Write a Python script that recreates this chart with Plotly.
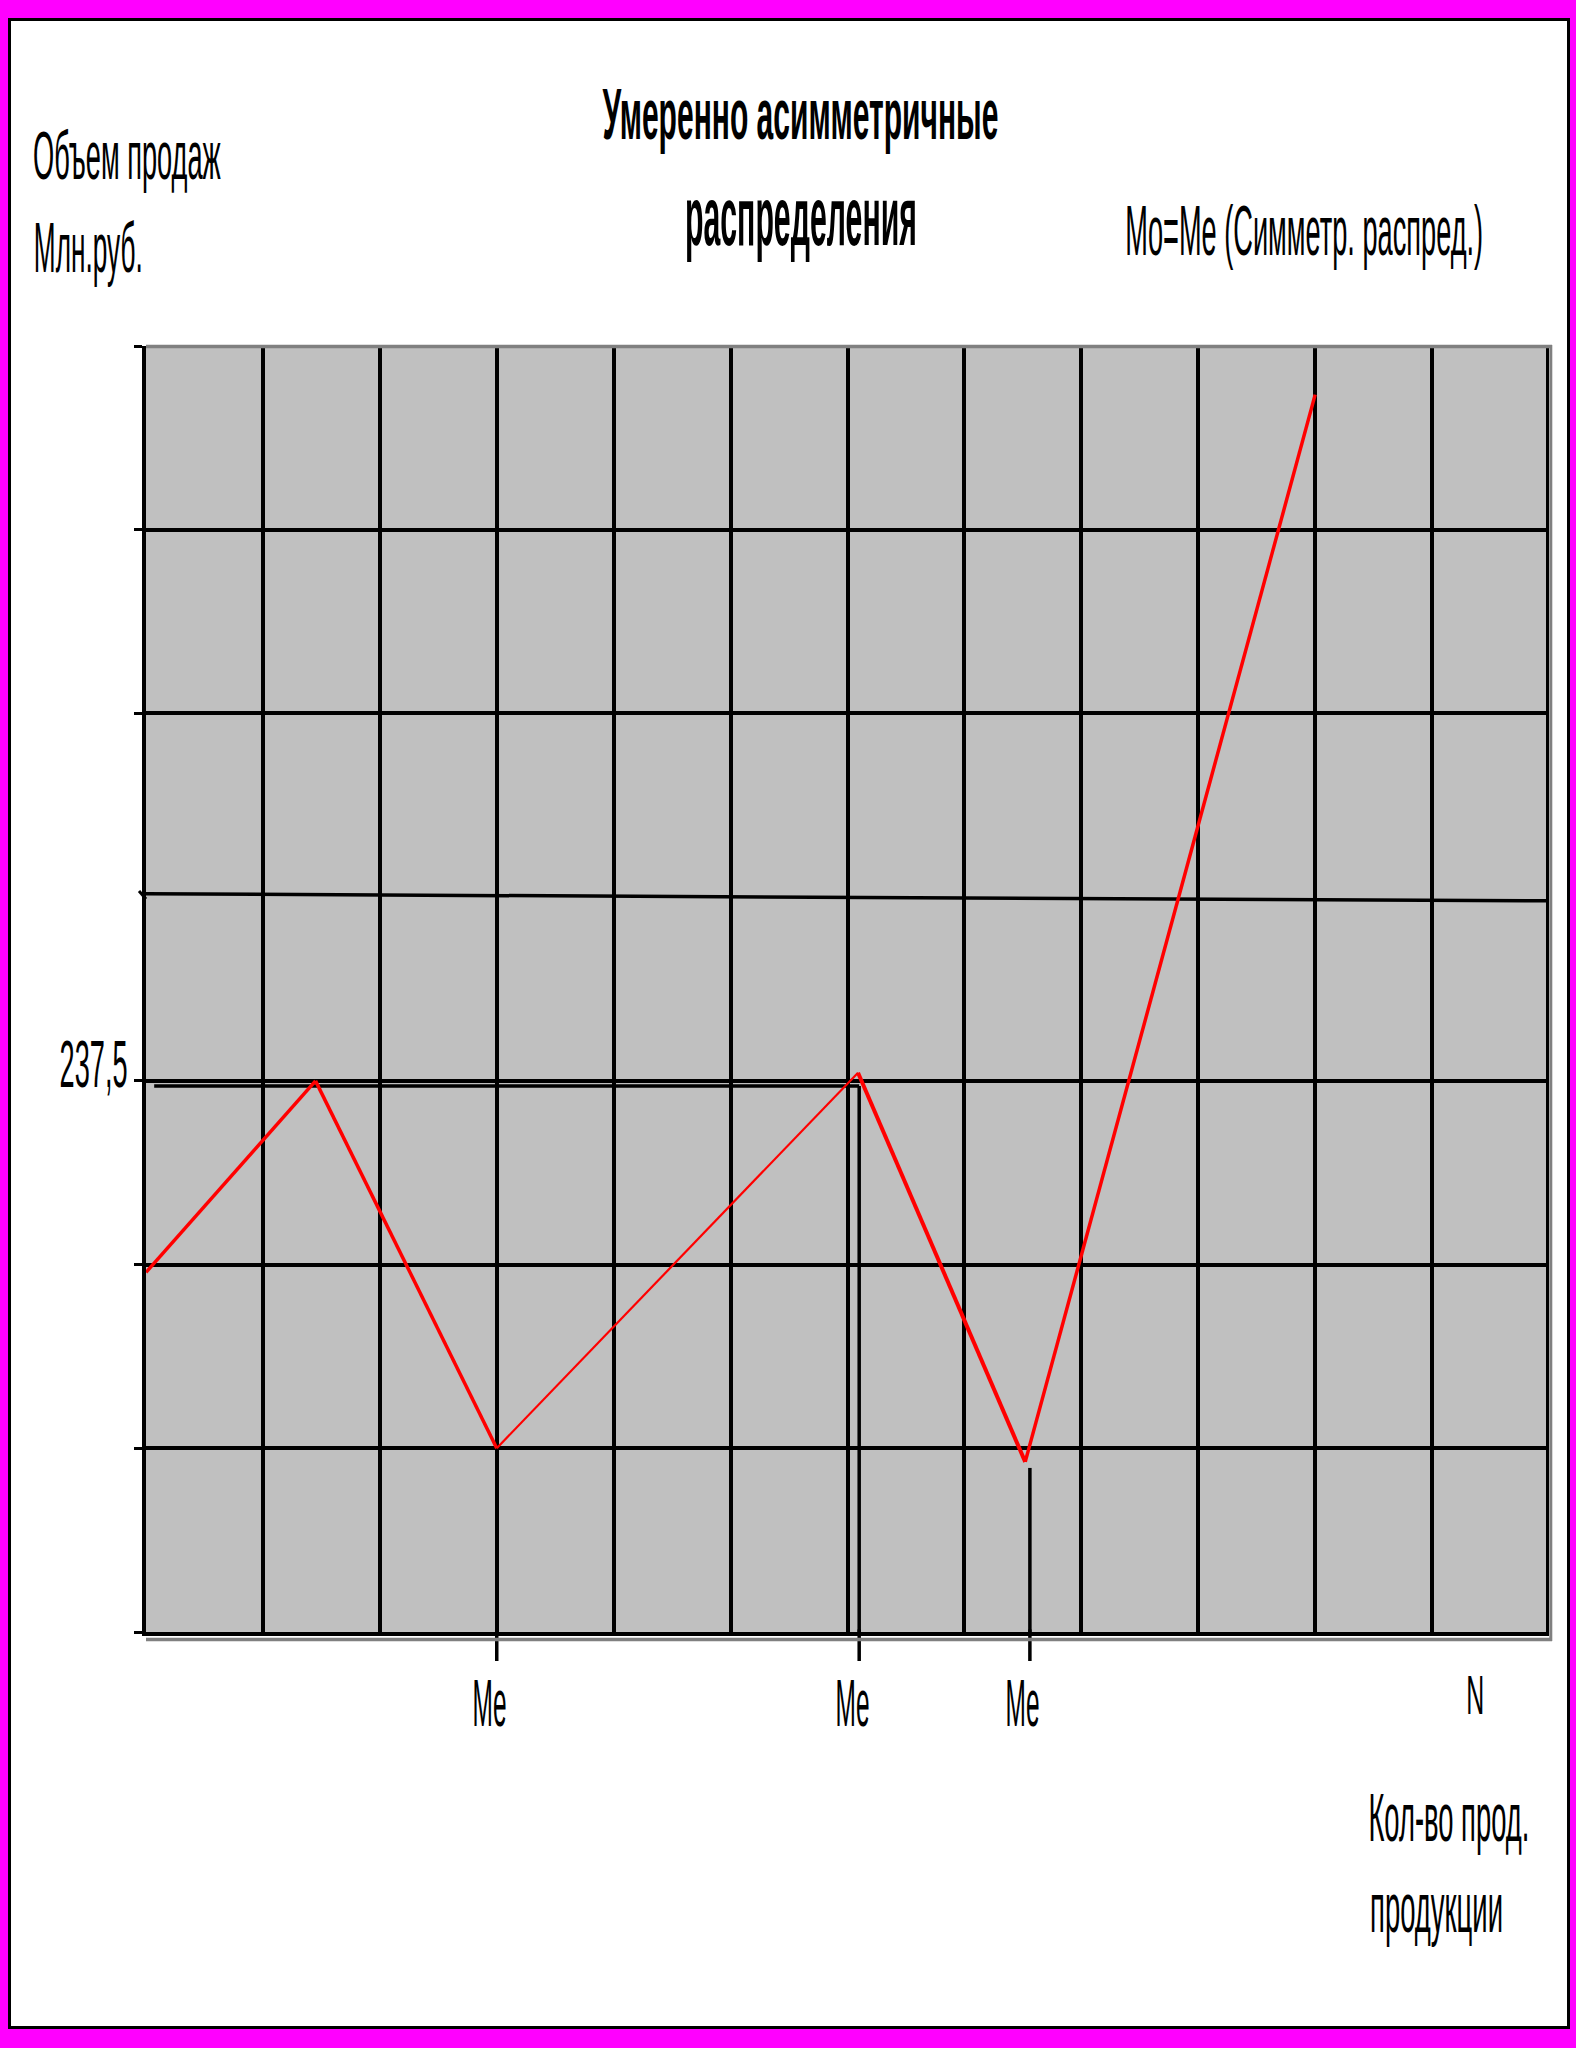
import json
import plotly.graph_objects as go

# ---------------- data ----------------
x_vals = [0.0, 1.45, 3.0, 6.09, 7.52, 10.0]          # position along "Кол-во прод. продукции"
y_vals = [155.0, 237.5, 79.2, 241.0, 73.3, 533.2]     # "Объем продаж, млн.руб."
me_x = [3.0, 6.1, 7.56]                               # median markers
me_top = [70.7, 235.3, 70.7]                          # where each Me line starts (value units)
me_labels = ["Me", "Me", "Me"]
guide_y = 235.3                                       # horizontal guide to the 237,5 level
guide_x = [0.07, 6.1]
slope_x = [0.0, 12.0]                                 # slightly skewed 4th grid line
slope_y = [318.1, 315.1]
y_label_value = 237.5
y_label_text = "237,5"
n_cols = 12
n_rows = 7
y_step = 237.5 / 3
y_gridvals = [k * y_step for k in range(n_rows + 1) if k != 4]
x_gridvals = list(range(n_cols + 1))

title_lines = ["Умеренно асимметричные", "распределения"]
y_title_lines = ["Объем продаж", "Млн.руб."]
x_title_lines = ["Кол-во прод.", "продукции"]
sym_text = "Mo=Me (Симметр. распред.)"
n_text = "N"

# ---------------- geometry helpers (pixels -> paper) ----------------
W, H = 1576, 2048
L, R, T, B = 146, 1549, 346, 1632
PW, PH = R - L, B - T


def px(x):
    return (x - L) / PW


def py(y):
    return (B - y) / PH


FONT = "Liberation Sans, Arial, sans-serif"
LW = 3.5
seg_widths = [3.5, 3.5, 2.2, 4, 3.5]

fig = go.Figure()
for i in range(len(x_vals) - 1):
    fig.add_trace(go.Scatter(
        x=x_vals[i:i + 2], y=y_vals[i:i + 2], mode="lines",
        line=dict(color="#FF0000", width=seg_widths[i]),
        showlegend=False, hoverinfo="skip"))

shapes = []
# magenta page frame (strips) + black inner border
mag = "#FF00FF"
for (x0, y0, x1, y1) in [(0, 0, W, 18), (0, 2029, W, H), (0, 0, 8, H), (1570, 0, W, H)]:
    shapes.append(dict(type="rect", xref="paper", yref="paper",
                       x0=px(x0), x1=px(x1), y0=py(y0), y1=py(y1),
                       fillcolor=mag, line=dict(width=0), layer="below"))
shapes.append(dict(type="rect", xref="paper", yref="paper",
                   x0=px(9.5), x1=px(1568.5), y0=py(19.5), y1=py(2027.5),
                   line=dict(color="black", width=3), layer="below"))

# right-most black grid line and grey plot-area border (top, right, bottom shadow)
shapes.append(dict(type="line", xref="paper", yref="paper", x0=px(1547.5), x1=px(1547.5),
                   y0=py(348), y1=py(1632), line=dict(color="black", width=3), layer="above"))
grey = "#808080"
shapes.append(dict(type="line", xref="paper", yref="paper", x0=px(146), x1=px(1552),
                   y0=py(346.5), y1=py(346.5), line=dict(color=grey, width=3.5), layer="above"))
shapes.append(dict(type="line", xref="paper", yref="paper", x0=px(1550.8), x1=px(1550.8),
                   y0=py(345), y1=py(1641), line=dict(color=grey, width=3), layer="above"))
shapes.append(dict(type="line", xref="paper", yref="paper", x0=px(146), x1=px(1552),
                   y0=py(1639.5), y1=py(1639.5), line=dict(color=grey, width=3.5), layer="above"))

# skewed 4th horizontal grid line and its slanted tick
shapes.append(dict(type="line", xref="x", yref="y", x0=slope_x[0], x1=slope_x[1],
                   y0=slope_y[0], y1=slope_y[1], line=dict(color="black", width=LW), layer="below"))
shapes.append(dict(type="line", xref="paper", yref="paper", x0=px(139), x1=px(146),
                   y0=py(891), y1=py(899), line=dict(color="black", width=3), layer="below"))

# guide line to the 237,5 level
shapes.append(dict(type="line", xref="x", yref="y", x0=guide_x[0], x1=guide_x[1],
                   y0=guide_y, y1=guide_y, line=dict(color="black", width=LW), layer="below"))

# Me lines: inside plot (data) + stub below the axis
for xv, top in zip(me_x, me_top):
    shapes.append(dict(type="line", xref="x", yref="y", x0=xv, x1=xv, y0=0, y1=top,
                       line=dict(color="black", width=LW), layer="below"))
    shapes.append(dict(type="line", xref="x", yref="paper", x0=xv, x1=xv, y0=0.002, y1=py(1661),
                       line=dict(color="black", width=LW), layer="below"))

# ---------------- texts ----------------
ann = []
ann_w = []


def add_text(text, cx, baseline, size, bold=False, width=None):
    ann.append(dict(text=text, xref="paper", yref="paper", x=px(cx),
                    y=py(baseline - 0.3465 * size), xanchor="center", yanchor="middle",
                    showarrow=False,
                    font=dict(family=FONT, size=size, color="black",
                              weight=700 if bold else 400)))
    ann_w.append(width)


add_text(title_lines[0], 800, 139, 73, True, 396)
add_text(title_lines[1], 801, 245, 84, True, 232)
add_text(y_title_lines[0], 127, 179, 68, False, 188)
add_text(y_title_lines[1], 88, 272, 70, False, 109)
add_text(sym_text, 1304, 255, 71, False, 358)
add_text(n_text, 1475, 1714, 56, False, 18)
add_text(x_title_lines[0], 1449, 1841, 69, False, 161)
add_text(x_title_lines[1], 1436, 1932, 70, False, 133)

# y value label
ann.append(dict(text=y_label_text, xref="paper", yref="y", x=px(93), y=y_label_value,
                yshift=17, xanchor="center", yanchor="middle", showarrow=False,
                font=dict(family=FONT, size=66, color="black")))
ann_w.append(68)

# Me labels
for xv, lab in zip(me_x, me_labels):
    ann.append(dict(text=lab, xref="x", yref="paper", x=xv, xshift=-7,
                    y=py(1726 - 0.3465 * 67), xanchor="center", yanchor="middle",
                    showarrow=False, font=dict(family=FONT, size=67, color="black")))
    ann_w.append(34)

fig.update_layout(
    width=W, height=H, autosize=False,
    margin=dict(l=L, r=W - R, t=T, b=H - B, pad=0),
    paper_bgcolor="white", plot_bgcolor="#C0C0C0",
    showlegend=False,
    shapes=shapes, annotations=ann,
    xaxis=dict(range=[0, n_cols], tickvals=x_gridvals, showticklabels=False, ticks="",
               showgrid=True, gridcolor="black", gridwidth=LW, zeroline=False,
               showline=True, linecolor="black", linewidth=LW, fixedrange=True),
    yaxis=dict(range=[0, n_rows * y_step], tickvals=y_gridvals, showticklabels=False,
               ticks="outside", ticklen=8, tickwidth=3, tickcolor="black",
               showgrid=True, gridcolor="black", gridwidth=LW, zeroline=False,
               showline=True, linecolor="black", linewidth=LW, fixedrange=True),
)

post = """
document.body.style.margin = '0';
var gd = document.getElementById('{plot_id}');
var WW = %s;
gd.querySelectorAll('g.annotation').forEach(function(g){
  var i = parseInt(g.getAttribute('data-index'));
  var t = g.querySelector('text.annotation-text');
  if(!t || !WW[i]) return;
  var w = t.getBBox().width;
  if(w > 0){
    t.style.transformBox = 'fill-box';
    t.style.transformOrigin = 'center';
    t.style.transform = 'scaleX(' + (WW[i] / w) + ')';
  }
});
""" % json.dumps(ann_w)

fig.write_html("out.html", post_script=post, config={"displayModeBar": False})
